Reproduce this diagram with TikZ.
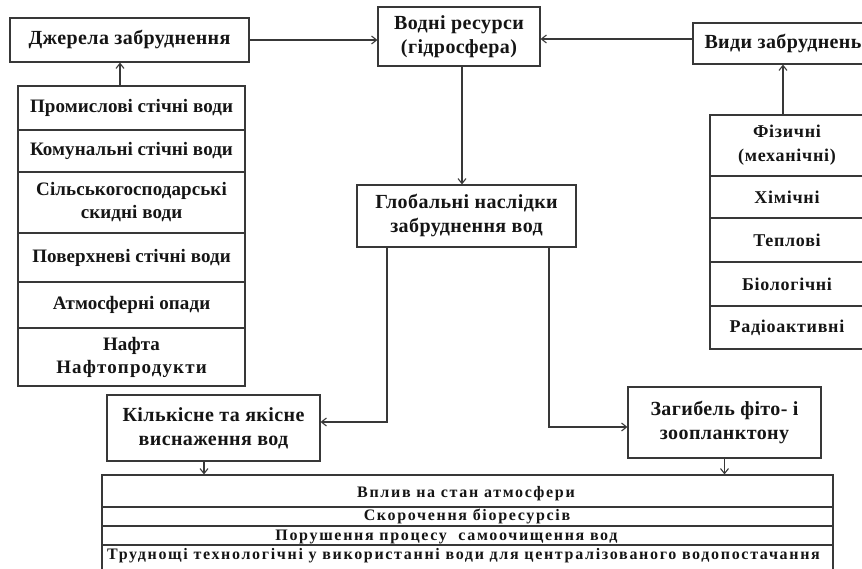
\documentclass[tikz,border=0pt]{standalone}
\usepackage{fontspec}
\setmainfont{Liberation Serif}
\newfontfamily\hdf{Liberation Serif}[LetterSpace=2]
\newfontfamily\stf{Liberation Serif}[LetterSpace=0.5]
\newfontfamily\rtf{Liberation Serif}[LetterSpace=4]
\newfontfamily\wdf{Liberation Serif}[LetterSpace=6]
\newfontfamily\tbf{Liberation Serif}[LetterSpace=10.5]
\usetikzlibrary{arrows.meta}
\definecolor{linec}{HTML}{383838}
\definecolor{txtc}{HTML}{151515}
\tikzset{
  box/.style={draw=linec, line width=1.2pt, fill=white, inner sep=0pt, align=center, text=txtc},
  hd/.style={font=\hdf\bfseries\fontsize{20}{24}\selectfont},
  st/.style={font=\stf\bfseries\fontsize{19}{23}\selectfont},
  rt/.style={font=\rtf\bfseries\fontsize{18}{24}\selectfont},
  tb/.style={font=\tbf\bfseries\fontsize{16}{18}\selectfont, text=txtc, inner sep=0pt, anchor=base},
  arr/.style={draw=linec, line width=1.1pt, -{Straight Barb[length=5pt,width=8pt]}},
  sep/.style={draw=linec, line width=1.2pt}
}
\begin{document}
\begin{tikzpicture}[x=1pt,y=-1pt]
\useasboundingbox (0,0) rectangle (862,569);
% top row
\node[box,hd,minimum width=239pt,minimum height=44pt] (dzh) at (129.5,40) {Джерела забруднення};
\node[box,hd,minimum width=162pt,minimum height=59pt] (vod) at (459,36.5) {Водні ресурси\\(гідросфера)};
\node[box,hd,minimum width=180pt,minimum height=41pt] (vyd) at (783,43.5) {Види забруднень};
% left stack
\node[box,st,minimum width=227pt,minimum height=44pt] (s1) at (131.5,108) {Промислові стічні води};
\node[box,st,minimum width=227pt,minimum height=42pt] (s2) at (131.5,151) {Комунальні стічні води};
\node[box,st,minimum width=227pt,minimum height=61pt] (s3) at (131.5,202.5) {Сільськогосподарські\\скидні води};
\node[box,st,minimum width=227pt,minimum height=49pt] (s4) at (131.5,257.5) {Поверхневі стічні води};
\node[box,st,minimum width=227pt,minimum height=46pt] (s5) at (131.5,305) {Атмосферні опади};
\node[box,st,minimum width=227pt,minimum height=58pt] (s6) at (131.5,357) {Нафта\\{\wdf Нафтопродукти}};
% right stack
\node[box,rt,minimum width=154pt,minimum height=61pt] (r1) at (787,145.5) {Фізичні\\(механічні)};
\node[box,rt,minimum width=154pt,minimum height=42pt] (r2) at (787,197) {Хімічні};
\node[box,rt,minimum width=154pt,minimum height=44pt] (r3) at (787,240) {Теплові};
\node[box,rt,minimum width=154pt,minimum height=44pt] (r4) at (787,284) {Біологічні};
\node[box,rt,minimum width=154pt,minimum height=43pt] (r5) at (787,327.5) {Радіоактивні};
% middle
\node[box,hd,minimum width=219pt,minimum height=62pt] (glob) at (466.5,216) {Глобальні наслідки\\забруднення вод};
\node[box,hd,minimum width=213pt,minimum height=66pt] (kilk) at (213.5,428) {Кількісне та якісне\\виснаження вод};
\node[box,hd,minimum width=193pt,minimum height=71pt] (zag) at (724.5,422.5) {Загибель фіто- і\\зоопланктону};
% table
\node[box,minimum width=731pt,minimum height=97pt] (tbl) at (467.5,523.5) {};
\draw[sep] (102,507) -- (833,507);
\draw[sep] (102,526) -- (833,526);
\draw[sep] (102,545) -- (833,545);
\node[tb] (t1) at (466,497) {Вплив на стан атмосфери};
\node[tb] (t2) at (467,520) {Скорочення біоресурсів};
\node[tb] (t3) at (446.5,540) {Порушення процесу\ \ самоочищення вод};
\node[tb] (t4) at (463.5,559) {Труднощі технологічні у використанні води для централізованого водопостачання};
% connectors
\draw[arr] (dzh.east) -- (dzh.east -| vod.west);
\draw[arr] ([yshift=4.5pt]vyd.west) -- ([yshift=4.5pt]vyd.west -| vod.east);
\draw[arr] ([xshift=-11.5pt]s1.north) -- ([xshift=-11.5pt]s1.north |- dzh.south);
\draw[arr] (vyd.south |- r1.north) -- (vyd.south);
\draw[arr] ([xshift=3pt]vod.south) -- ([xshift=3pt]vod.south |- glob.north);
\draw[arr] ([xshift=-79.5pt]glob.south) |- ([yshift=6pt]kilk.east);
\draw[arr] ([xshift=82.5pt]glob.south) |- ([yshift=-4.5pt]zag.west);
\draw[arr] ([xshift=-9.5pt]kilk.south) -- ([xshift=-9.5pt]kilk.south |- tbl.north);
\draw[arr] (zag.south) -- (zag.south |- tbl.north);
\end{tikzpicture}
\end{document}
